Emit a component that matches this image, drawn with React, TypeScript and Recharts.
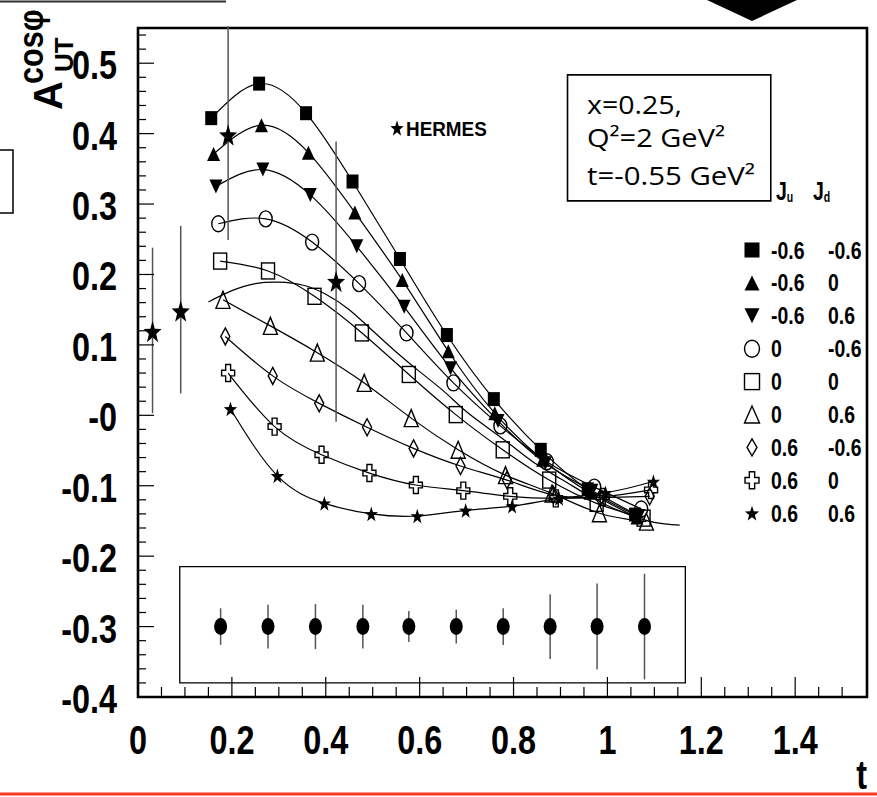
import React from "react";
import { ComposedChart, Line, Scatter, XAxis, YAxis, ReferenceArea, ErrorBar } from "recharts";

// ---------- axis ticks ----------
const X_TICKS = [0, 0.05, 0.1, 0.15, 0.2, 0.25, 0.3, 0.35, 0.4, 0.45, 0.5, 0.55, 0.6, 0.65, 0.7, 0.75, 0.8, 0.85, 0.9, 0.95, 1, 1.05, 1.1, 1.15, 1.2, 1.25, 1.3, 1.35, 1.4, 1.45, 1.5];
const X_MAJOR = [0, 0.2, 0.4, 0.6, 0.8, 1, 1.2, 1.4];
const X_LABELS = ["0", "0.2", "0.4", "0.6", "0.8", "1", "1.2", "1.4"];
const Y_TICKS = [-0.4, -0.38, -0.36, -0.34, -0.32, -0.3, -0.28, -0.26, -0.24, -0.22, -0.2, -0.18, -0.16, -0.14, -0.12, -0.1, -0.08, -0.06, -0.04, -0.02, 0, 0.02, 0.04, 0.06, 0.08, 0.1, 0.12, 0.14, 0.16, 0.18, 0.2, 0.22, 0.24, 0.26, 0.28, 0.3, 0.32, 0.34, 0.36, 0.38, 0.4, 0.42, 0.44, 0.46, 0.48, 0.5, 0.52, 0.54];
const Y_MAJOR = [0.5, 0.4, 0.3, 0.2, 0.1, 0, -0.1, -0.2, -0.3, -0.4];
const Y_LABELS = ["0.5", "0.4", "0.3", "0.2", "0.1", "-0", "-0.1", "-0.2", "-0.3", "-0.4"];

// ---------- model series (Ju, Jd) ----------
const T_SQF = [0.156, 0.258, 0.358, 0.457, 0.558, 0.658, 0.758, 0.858, 0.958, 1.059];
const Y_SQF = [0.422, 0.471, 0.429, 0.332, 0.222, 0.114, 0.023, -0.049, -0.105, -0.141];
const T_TUF = [0.161, 0.263, 0.363, 0.462, 0.563, 0.661, 0.76, 0.862, 0.963, 1.063];
const Y_TUF = [0.371, 0.412, 0.373, 0.288, 0.192, 0.091, 0.003, -0.063, -0.11, -0.145];
const T_TDF = [0.166, 0.266, 0.367, 0.466, 0.567, 0.666, 0.767, 0.868, 0.967, 1.067];
const Y_TDF = [0.325, 0.349, 0.313, 0.24, 0.154, 0.067, -0.008, -0.068, -0.107, -0.143];
const T_CIO = [0.171, 0.272, 0.371, 0.471, 0.572, 0.672, 0.772, 0.871, 0.972, 1.072];
const Y_CIO = [0.272, 0.279, 0.246, 0.187, 0.117, 0.046, -0.015, -0.066, -0.102, -0.133];
const T_SQO = [0.175, 0.277, 0.376, 0.477, 0.577, 0.677, 0.777, 0.876, 0.977, 1.077];
const Y_SQO = [0.219, 0.205, 0.169, 0.117, 0.058, 0.001, -0.049, -0.092, -0.125, -0.146];
const T_TUO = [0.181, 0.282, 0.382, 0.482, 0.582, 0.682, 0.783, 0.882, 0.983, 1.083];
const Y_TUO = [0.164, 0.127, 0.089, 0.046, -0.004, -0.049, -0.085, -0.111, -0.139, -0.151];
const T_DIO = [0.186, 0.287, 0.386, 0.488, 0.587, 0.687, 0.786, 0.885, 0.985, 1.09];
const Y_DIO = [0.112, 0.056, 0.017, -0.017, -0.047, -0.072, -0.092, -0.113, -0.117, -0.115];
const T_CRO = [0.192, 0.291, 0.391, 0.493, 0.592, 0.693, 0.793, 0.89, 0.99, 1.093];
const Y_CRO = [0.06, -0.016, -0.056, -0.082, -0.099, -0.107, -0.115, -0.118, -0.116, -0.106];
const T_STF = [0.197, 0.297, 0.397, 0.497, 0.595, 0.698, 0.797, 0.897, 0.996, 1.098];
const Y_STF = [0.009, -0.086, -0.125, -0.14, -0.143, -0.135, -0.129, -0.118, -0.11, -0.094];

// extra smooth curve
const T_CURVE = [0.15, 0.2, 0.25, 0.3, 0.35, 0.4, 0.45, 0.5, 0.55, 0.6, 0.65, 0.7, 0.75, 0.8, 0.85, 0.9, 0.95, 1.0, 1.05, 1.1, 1.154];
const Y_CURVE = [0.161, 0.177, 0.187, 0.189, 0.185, 0.172, 0.15, 0.12, 0.09, 0.062, 0.035, 0.005, -0.02, -0.045, -0.07, -0.09, -0.11, -0.128, -0.142, -0.152, -0.156];

// HERMES data
const HERMES_T = [0.031, 0.091, 0.192, 0.422];
const HERMES_Y = [0.119, 0.148, 0.398, 0.19];
const HERMES_LO = [0.003, 0.031, 0.249, -0.009];
const HERMES_HI = [0.238, 0.269, 0.553, 0.389];

// projected errors (bottom box)
const BIN_T = [0.176, 0.277, 0.378, 0.479, 0.577, 0.678, 0.778, 0.878, 0.978, 1.079];
const BIN_Y = [-0.3, -0.3, -0.3, -0.3, -0.3, -0.3, -0.3, -0.3, -0.3, -0.3];
const BIN_ERR = [0.026, 0.031, 0.032, 0.031, 0.022, 0.024, 0.026, 0.046, 0.061, 0.075];

// legend
const LEGEND_JU = ["-0.6", "-0.6", "-0.6", "0", "0", "0", "0.6", "0.6", "0.6"];
const LEGEND_JD = ["-0.6", "0", "0.6", "-0.6", "0", "0.6", "-0.6", "0", "0.6"];

type Kind = "sqF" | "tuF" | "tdF" | "ciO" | "sqO" | "tuO" | "diO" | "crO" | "stF" | "dot";

const rows = (ts: number[], ys: number[]) => ts.map((t, i) => ({ t, y: ys[i] }));

const SERIES: { kind: Kind; data: { t: number; y: number }[] }[] = [
  { kind: "sqF", data: rows(T_SQF, Y_SQF) },
  { kind: "tuF", data: rows(T_TUF, Y_TUF) },
  { kind: "tdF", data: rows(T_TDF, Y_TDF) },
  { kind: "ciO", data: rows(T_CIO, Y_CIO) },
  { kind: "sqO", data: rows(T_SQO, Y_SQO) },
  { kind: "tuO", data: rows(T_TUO, Y_TUO) },
  { kind: "diO", data: rows(T_DIO, Y_DIO) },
  { kind: "crO", data: rows(T_CRO, Y_CRO) },
  { kind: "stF", data: rows(T_STF, Y_STF) },
];

const SIZES: Record<Kind, [number, number]> = {
  sqF: [12, 14], tuF: [13, 14], tdF: [13, 14], ciO: [13, 16], sqO: [13, 16],
  tuO: [14, 17], diO: [9, 17], crO: [13, 17], stF: [14, 15], dot: [13, 17],
};
const LEG_SIZES: Record<Kind, [number, number]> = {
  sqF: [15, 15], tuF: [15, 15], tdF: [15, 15], ciO: [15, 17], sqO: [15, 16],
  tuO: [15, 17], diO: [10, 17], crO: [14, 17], stF: [15, 15], dot: [13, 17],
};

const starPoints = (cx: number, cy: number, w: number, h: number) => {
  const pts: string[] = [];
  const oy = cy + h * 0.05;
  for (let i = 0; i < 10; i++) {
    const a = (-90 + i * 36) * Math.PI / 180;
    const r = i % 2 === 0 ? 1 : 0.4;
    pts.push(`${cx + Math.cos(a) * r * w / 2},${oy + Math.sin(a) * r * h / 1.85}`);
  }
  return pts.join(" ");
};

const Marker = ({ kind, cx, cy, w, h }: { kind: Kind; cx: number; cy: number; w: number; h: number }) => {
  const sw = 1.4;
  const W = w / 2, H = h / 2;
  switch (kind) {
    case "sqF":
      return <rect x={cx - W} y={cy - H} width={w} height={h} fill="#000" />;
    case "sqO":
      return <rect x={cx - W} y={cy - H} width={w} height={h} fill="none" stroke="#000" strokeWidth={sw} />;
    case "tuF":
      return <polygon points={`${cx},${cy - H} ${cx + W},${cy + H} ${cx - W},${cy + H}`} fill="#000" />;
    case "tdF":
      return <polygon points={`${cx},${cy + H} ${cx + W},${cy - H} ${cx - W},${cy - H}`} fill="#000" />;
    case "tuO":
      return <polygon points={`${cx},${cy - H} ${cx + W},${cy + H} ${cx - W},${cy + H}`} fill="none" stroke="#000" strokeWidth={sw} />;
    case "ciO":
      return <ellipse cx={cx} cy={cy} rx={W} ry={H} fill="none" stroke="#000" strokeWidth={sw} />;
    case "diO":
      return <polygon points={`${cx},${cy - H} ${cx + W},${cy} ${cx},${cy + H} ${cx - W},${cy}`} fill="none" stroke="#000" strokeWidth={sw} />;
    case "crO": {
      const a = W * 0.38, b = H * 0.33;
      const p = [[-a, -H], [a, -H], [a, -b], [W, -b], [W, b], [a, b], [a, H], [-a, H], [-a, b], [-W, b], [-W, -b], [-a, -b]]
        .map(([x, y]) => `${cx + x},${cy + y}`).join(" ");
      return <polygon points={p} fill="none" stroke="#000" strokeWidth={sw} />;
    }
    case "stF":
      return <polygon points={starPoints(cx, cy, w, h)} fill="#000" />;
    case "dot":
      return <ellipse cx={cx} cy={cy} rx={W} ry={H} fill="#000" />;
  }
  return null;
};

const SANS = "'Liberation Sans',Arial,Helvetica,sans-serif";

// condensed bold text (horizontal squeeze of a bold sans)
const NText = ({ x, y, size, anchor = "start", sx = 0.81, children }: any) => (
  <text transform={`translate(${x},${y}) scale(${sx},1)`} textAnchor={anchor} fontFamily={SANS}
    fontWeight="bold" fontSize={size} fill="#000">
    {children}
  </text>
);

const XTick = (props: any) => {
  const { x, y, payload } = props;
  const idx = X_MAJOR.findIndex((m) => Math.abs(m - payload.value) < 1e-6);
  const major = idx >= 0;
  return (
    <g>
      <line x1={x} x2={x} y1={y} y2={y - (major ? 20 : 10)} stroke="#000" strokeWidth={1.2} />
      {major && <NText x={x} y={y + 57} size={40} anchor="middle">{X_LABELS[idx]}</NText>}
    </g>
  );
};

const YTick = (props: any) => {
  const { x, y, payload } = props;
  const idx = Y_MAJOR.findIndex((m) => Math.abs(m - payload.value) < 1e-6);
  const major = idx >= 0;
  return (
    <g>
      <line x1={x} x2={x + (major ? 16 : 8)} y1={y} y2={y} stroke="#000" strokeWidth={1.2} />
      {major && <NText x={x - 21} y={y + 16} size={40} anchor="end">{Y_LABELS[idx]}</NText>}
    </g>
  );
};

const hermesData = HERMES_T.map((t, i) => ({ t, y: HERMES_Y[i], err: [HERMES_Y[i] - HERMES_LO[i], HERMES_HI[i] - HERMES_Y[i]] }));
const binData = BIN_T.map((t, i) => ({ t, y: BIN_Y[i], err: BIN_ERR[i] }));

export default function App() {
  return (
    <div style={{ position: "absolute", left: 0, top: 0, width: 877, height: 797, background: "#fff", overflow: "hidden" }}>
      <div style={{ position: "absolute", left: 0, top: 0 }}>
        <ComposedChart width={877} height={797} margin={{ top: 28, right: 10, bottom: 99, left: 137 }}>
          <XAxis type="number" dataKey="t" domain={[0, 1.553]} allowDataOverflow ticks={X_TICKS} interval={0}
            tickSize={0} tickMargin={0} axisLine={false} tickLine={false} tick={<XTick />} height={1} />
          <YAxis type="number" dataKey="y" domain={[-0.4, 0.55]} allowDataOverflow ticks={Y_TICKS} interval={0}
            tickSize={0} tickMargin={0} axisLine={false} tickLine={false} tick={<YTick />} width={1} />
          <ReferenceArea x1={0} x2={1.553} y1={-0.4} y2={0.55} fill="none" stroke="#000" strokeWidth={2.6} ifOverflow="visible" />
          <ReferenceArea x1={0.089} x2={1.166} y1={-0.38} y2={-0.215} fill="none" stroke="#000" strokeWidth={1.3} ifOverflow="visible" />
          <ReferenceArea x1={0.915} x2={1.348} y1={0.3045} y2={0.4835} fill="none" stroke="#000" strokeWidth={1.6} ifOverflow="visible" />
          <Line data={rows(T_CURVE, Y_CURVE)} dataKey="y" type="natural" stroke="#000" strokeWidth={1.2} dot={false} isAnimationActive={false} />
          {SERIES.map((s) => (
            <Line key={s.kind} data={s.data} dataKey="y" type="natural" stroke="#000" strokeWidth={1.2}
              isAnimationActive={false}
              dot={(p: any) => <Marker key={`${s.kind}-${p.index}`} kind={s.kind} cx={p.cx} cy={p.cy} w={SIZES[s.kind][0]} h={SIZES[s.kind][1]} />}
              activeDot={false} />
          ))}
          <Scatter data={hermesData} dataKey="y" isAnimationActive={false}
            shape={(p: any) => <Marker kind="stF" cx={p.cx} cy={p.cy} w={19} h={22} />}>
            <ErrorBar dataKey="err" direction="y" width={0} stroke="#555" strokeWidth={1.5} />
          </Scatter>
          <Scatter data={binData} dataKey="y" isAnimationActive={false}
            shape={(p: any) => <Marker kind="dot" cx={p.cx} cy={p.cy} w={13} h={17} />}>
            <ErrorBar dataKey="err" direction="y" width={0} stroke="#555" strokeWidth={1.5} />
          </Scatter>
        </ComposedChart>
      </div>
      <svg width={877} height={797} style={{ position: "absolute", left: 0, top: 0, pointerEvents: "none" }}>
        {/* cropped neighbouring elements */}
        <line x1={0} y1={1.5} x2={226} y2={1.5} stroke="#333" strokeWidth={2} />
        <rect x={-3} y={150} width={16} height={63} fill="none" stroke="#000" strokeWidth={1.5} />
        <polygon points="707,0 797,0 752,21" fill="#000" />
        <line x1={0} y1={794} x2={877} y2={794} stroke="#ff3b21" strokeWidth={3} />
        <NText x={867} y={789} size={40} anchor="end">t</NText>

        {/* y-axis title */}
        <g transform="translate(62,110) rotate(-90)">
          <text fontFamily={SANS} fontWeight="bold" fill="#000">
            <tspan x={0} y={0} fontSize={40}>A</tspan>
            <tspan x={38} y={11} fontSize={26}>UT</tspan>
          </text>
          <g transform="translate(26,-19) scale(0.85,1)">
            <text fontFamily={SANS} fontWeight="bold" fill="#000" fontSize={36}>cosφ</text>
          </g>
        </g>

        {/* HERMES label */}
        <Marker kind="stF" cx={397} cy={128} w={14} h={16} />
        <text x={406} y={136} fontFamily={SANS} fontWeight="bold" fontSize={21} fill="#000"
          transform="translate(406,136) scale(0.9,1) translate(-406,-136)">HERMES</text>

        {/* kinematics box text */}
        <g fontFamily="'Open Sans','Noto Sans',sans-serif" fontSize={25} fill="#000">
          <text x={587} y={114} textLength={95} lengthAdjust="spacingAndGlyphs">x=0.25,</text>
          <text x={587} y={147} textLength={138} lengthAdjust="spacingAndGlyphs">Q²=2 GeV²</text>
          <text x={587} y={185} textLength={168} lengthAdjust="spacingAndGlyphs">t=-0.55 GeV²</text>
        </g>

        {/* legend */}
        <NText x={776} y={200} size={26} sx={0.75}>J<tspan fontSize={14} dy={2}>u</tspan></NText>
        <NText x={813} y={200} size={26} sx={0.75}>J<tspan fontSize={14} dy={2}>d</tspan></NText>
        {SERIES.map((s, i) => {
          const cy = 250 + i * 32.9;
          return (
            <g key={s.kind}>
              <Marker kind={s.kind} cx={752} cy={cy} w={LEG_SIZES[s.kind][0]} h={LEG_SIZES[s.kind][1]} />
              <NText x={771} y={cy + 8.5} size={24}>{LEGEND_JU[i]}</NText>
              <NText x={828} y={cy + 8.5} size={24}>{LEGEND_JD[i]}</NText>
            </g>
          );
        })}
      </svg>
    </div>
  );
}
